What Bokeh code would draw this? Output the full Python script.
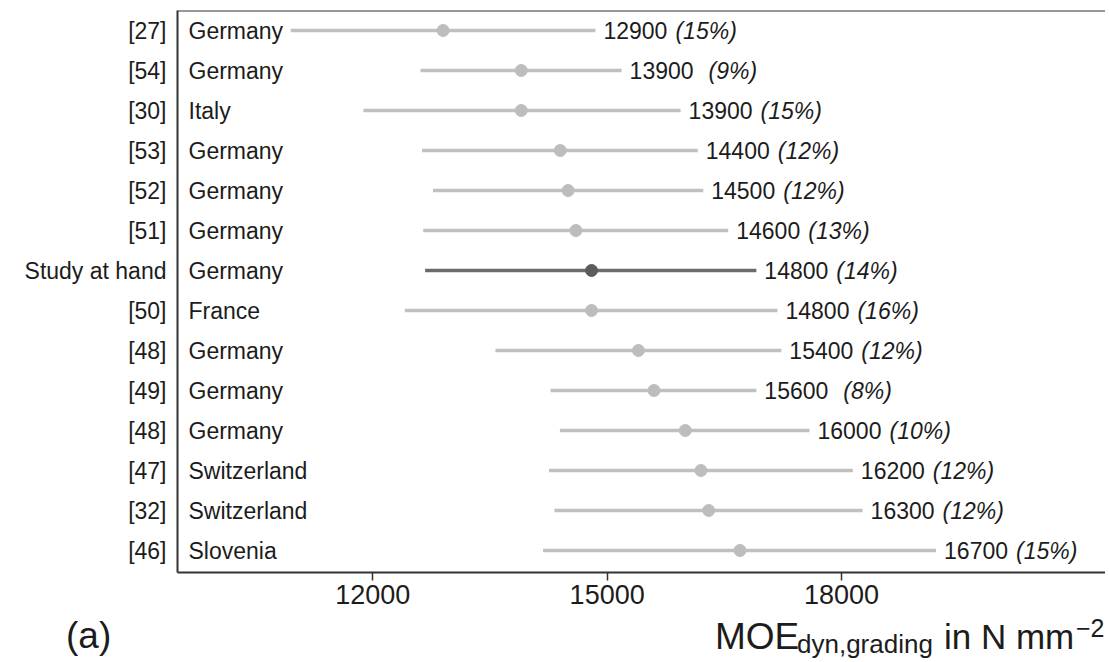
from bokeh.plotting import figure
from bokeh.layouts import column
from bokeh.models import ColumnDataSource, Range1d, FixedTicker, Span, Div
from bokeh.core.properties import value
from bokeh.embed import file_html
from bokeh.resources import INLINE

# ---- data ----
refs = ["[27]", "[54]", "[30]", "[53]", "[52]", "[51]", "Study at hand",
        "[50]", "[48]", "[49]", "[48]", "[47]", "[32]", "[46]"]
countries = ["Germany", "Germany", "Italy", "Germany", "Germany", "Germany", "Germany",
             "France", "Germany", "Germany", "Germany", "Switzerland", "Switzerland", "Slovenia"]
means = [12900, 13900, 13900, 14400, 14500, 14600, 14800,
         14800, 15400, 15600, 16000, 16200, 16300, 16700]
cov_pct = [15, 9, 15, 12, 12, 13, 14, 16, 12, 8, 10, 12, 12, 15]
mins = [10950, 12610, 11880, 12630, 12770, 12645, 12670,
        12410, 13570, 14275, 14395, 14255, 14325, 14180]
maxs = [14850, 15185, 15940, 16160, 16230, 16550, 16910,
        17180, 17230, 16910, 17590, 18145, 18270, 19210]
highlight = "Study at hand"
x_ticks = [12000, 15000, 18000]
panel_letter = "(a)"
axis_title = ("MOE", "dyn,grading", "in N mm", "\u22122")

# ---- geometry ----
FONT = "Liberation Sans"
TXT = "#1c1c1c"
W = 1105
H_MAIN = 616
H_CAP = 46
FRAME_LEFT_PX = 177
FRAME_TOP_PX = 10
FRAME_BOTTOM_PX = 572
PPU = 0.07812                # px per N/mm2
X0 = 9500
X1 = X0 + (W - FRAME_LEFT_PX) / PPU
ROW_PX = 40.0
Y_TOP = 0.5
Y_BOTTOM = Y_TOP + (FRAME_BOTTOM_PX - FRAME_TOP_PX) / ROW_PX

n = len(refs)
ys = list(range(1, n + 1))
line_col = ["#6b6b6b" if r == highlight else "#c0c0c0" for r in refs]
dot_col = ["#5c5c5c" if r == highlight else "#bdbdbd" for r in refs]
num_txt = [str(m) for m in means]
pct_txt = [f"({c}%)" for c in cov_pct]
pct_off = [8 + 79 if c < 10 else 8 + 72 for c in cov_pct]

src = ColumnDataSource(dict(y=ys, lo=mins, hi=maxs, mean=means, country=countries,
                            lc=line_col, dc=dot_col, num=num_txt, pct=pct_txt,
                            poff=pct_off, x0=[X0] * n))

p = figure(width=W, height=H_MAIN, output_backend="svg", toolbar_location=None,
           x_range=Range1d(X0, X1), y_range=Range1d(Y_BOTTOM, Y_TOP),
           min_border_left=FRAME_LEFT_PX, min_border_right=0,
           min_border_top=FRAME_TOP_PX, min_border_bottom=H_MAIN - FRAME_BOTTOM_PX)
p.outline_line_color = None
p.grid.visible = False
p.background_fill_color = "white"
p.border_fill_color = "white"

p.segment(x0="lo", y0="y", x1="hi", y1="y", source=src, line_color="lc", line_width=3.5)
p.scatter(x="mean", y="y", source=src, size=12, fill_color="dc", line_color="dc")

p.text(x="x0", y="y", text="country", source=src, x_offset=11, text_baseline="middle",
       text_font=value(FONT), text_font_size="23px", text_color=TXT)
p.text(x="hi", y="y", text="num", source=src, x_offset=8, text_baseline="middle",
       text_font=value(FONT), text_font_size="23px", text_color=TXT)
p.text(x="hi", y="y", text="pct", source=src, x_offset="poff", text_baseline="middle",
       text_font=value(FONT), text_font_size="23px", text_font_style="italic", text_color=TXT)

# x axis
xa = p.xaxis[0]
xa.ticker = FixedTicker(ticks=x_ticks)
xa.minor_tick_line_color = None
xa.major_tick_in = 0
xa.major_tick_out = 8
xa.major_tick_line_color = "#333333"
xa.major_tick_line_width = 1.5
xa.axis_line_color = "#333333"
xa.axis_line_width = 2
xa.major_label_text_font = FONT
xa.major_label_text_font_size = "27px"
xa.major_label_text_color = TXT
xa.major_label_standoff = 4

# y axis
ya = p.yaxis[0]
ya.ticker = FixedTicker(ticks=ys)
ya.major_label_overrides = {y: r for y, r in zip(ys, refs)}
ya.major_tick_line_color = None
ya.minor_tick_line_color = None
ya.major_tick_out = 0
ya.major_tick_in = 0
ya.axis_line_color = "#333333"
ya.axis_line_width = 2
ya.major_label_text_font = FONT
ya.major_label_text_font_size = "23px"
ya.major_label_text_color = TXT
ya.major_label_standoff = 11

# top border
p.add_layout(Span(location=Y_TOP, dimension="width", line_color="#333333", line_width=2))

# ---- caption strip (axis title and panel letter) as real HTML text ----
ASC = 0.8465  # baseline position within a line-height:1 box (Liberation Sans)


def span(text, left, baseline_page, size):
    top = baseline_page - ASC * size - H_MAIN
    return (f'<span style="position:absolute;left:{left}px;top:{top:.1f}px;'
            f'font-size:{size}px;line-height:1;white-space:nowrap;">{text}</span>')


html = ('<div style="position:relative;width:%dpx;height:%dpx;overflow:visible;'
        'font-family:\'Liberation Sans\';color:%s;">' % (W, H_CAP, TXT)
        + span(axis_title[0], 715, 649, 37)
        + span(axis_title[1], 797, 653, 26)
        + span(axis_title[2], 944, 649, 35)
        + span(axis_title[3], 1076, 637, 25)
        + span(panel_letter, 66, 648, 37)
        + '</div>')
cap = Div(text=html, width=W, height=H_CAP, margin=(0, 0, 0, 0),
          styles={"overflow": "visible"})

layout = column(p, cap, spacing=0)
open("out.html", "w").write(file_html(layout, INLINE))
